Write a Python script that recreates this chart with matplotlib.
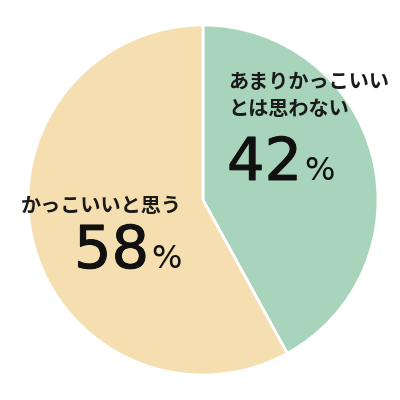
import matplotlib.pyplot as plt
import matplotlib.patheffects as pe

plt.rcParams['font.family'] = ['Noto Sans CJK JP', 'DejaVu Sans']

labels = ['あまりかっこいい\nとは思わない', 'かっこいいと思う']
shares = [42, 58]
colors = ['#a7d4bb', '#f5dfb0']

fig = plt.figure(figsize=(4, 4), dpi=100)
ax = fig.add_axes([0, 0, 1, 1])
ax.pie(shares, colors=colors, startangle=90, counterclock=False,
       radius=175, center=(0, 0),
       wedgeprops=dict(edgecolor='white', linewidth=2))
ax.set_xlim(-203, 197)
ax.set_ylim(-200, 200)
ax.set_aspect('equal')
ax.axis('off')

num_font = dict(family='DejaVu Sans', color='#111111', ha='left', va='baseline')
thick = [pe.withStroke(linewidth=0.7, foreground='#111111')]

# green slice text
ax.text(25, 105, labels[0], fontsize=14.5, fontweight='bold', color='#1a1a1a',
        ha='left', va='center', linespacing=1.4)
ax.text(24, 20, f'{shares[0]}', fontsize=42.5, path_effects=thick, **num_font)
ax.text(101, 20, '%', fontsize=23, **num_font)

# beige slice text
ax.text(-182, -5, labels[1], fontsize=14.5, fontweight='bold', color='#1a1a1a',
        ha='left', va='center')
ax.text(-129, -68, f'{shares[1]}', fontsize=42.5, path_effects=thick, **num_font)
ax.text(-52, -68, '%', fontsize=23, **num_font)

fig.savefig('out.png', dpi=100, facecolor='white')
